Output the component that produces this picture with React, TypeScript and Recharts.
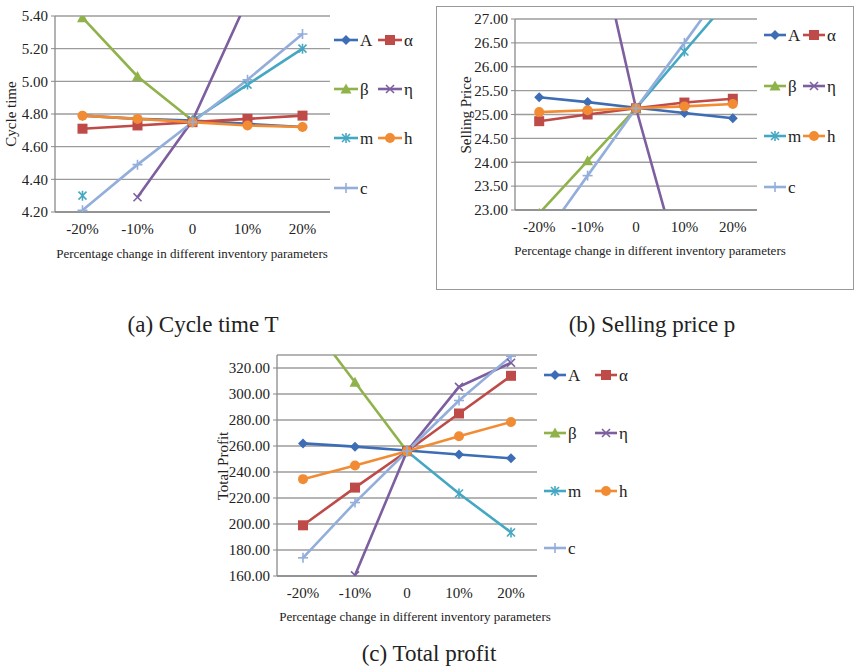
import React from "react"
import { LineChart, Line, XAxis, YAxis, CartesianGrid } from "recharts"

// categories on the x axis
const categories = ["-20%", "-10%", "0", "10%", "20%"]
const pctSteps = [-20, -10, 0, 10, 20]
const boundaryTicks = [-25, -15, -5, 5, 15, 25]

// (a) cycle time T
const cycleTicks = [4.2, 4.4, 4.6, 4.8, 5.0, 5.2, 5.4]
const cycleA = [4.79, 4.77, 4.76, 4.74, 4.72]
const cycleAlpha = [4.71, 4.73, 4.75, 4.77, 4.79]
const cycleBeta = [5.39, 5.03, 4.76, null, null]
const cycleEta = [null, 4.29, 4.76, 5.5, 6.25]
const cycleM = [4.3, null, 4.76, 4.98, 5.2]
const cycleH = [4.79, 4.77, 4.75, 4.73, 4.72]
const cycleC = [4.21, 4.49, 4.75, 5.01, 5.29]

// (b) selling price p
const priceTicks = [23, 23.5, 24, 24.5, 25, 25.5, 26, 26.5, 27]
const priceA = [25.36, 25.26, 25.14, 25.03, 24.92]
const priceAlpha = [24.86, 25.0, 25.13, 25.25, 25.33]
const priceBeta = [22.93, 24.03, 25.13, null, null]
const priceEta = [33.8, 29.6, 25.13, 21.5, 17.9]
const priceM = [null, null, 25.13, 26.32, 27.5]
const priceH = [25.05, 25.09, 25.13, 25.17, 25.22]
const priceC = [22.3, 23.72, 25.13, 26.5, 27.9]

// (c) total profit
const profitTicks = [160, 180, 200, 220, 240, 260, 280, 300, 320]
const profitA = [262, 259.5, 256.5, 253.5, 250.5]
const profitAlpha = [199, 228, 256, 285, 314]
const profitBeta = [362, 309, 256, null, null]
const profitEta = [null, 160.5, 256, 305.5, 324]
const profitM = [null, null, 256, 223.5, 193.5]
const profitH = [234.5, 245, 256, 267.5, 278.5]
const profitC = [174, 216.5, 256, 295, 329]

const seriesNames = ["A", "α", "β", "η", "m", "h", "c"]
const seriesColors = ["#3d6db4", "#be4b48", "#8fb34a", "#7d5fa0", "#45a8c2", "#f28c34", "#93aedb"]
const seriesShapes = ["diamond", "square", "triangle", "x", "star", "circle", "plus"]

const FONT = "'Liberation Serif', 'Times New Roman', serif"

function marker(shape: string, cx: number, cy: number, color: string, key?: string) {
  const s = 5
  switch (shape) {
    case "diamond":
      return <polygon key={key} points={`${cx},${cy - s} ${cx + s},${cy} ${cx},${cy + s} ${cx - s},${cy}`} fill={color} />
    case "square":
      return <rect key={key} x={cx - s} y={cy - s} width={s * 2} height={s * 2} fill={color} />
    case "triangle":
      return <polygon key={key} points={`${cx},${cy - 5.5} ${cx + 5.5},${cy + 4.5} ${cx - 5.5},${cy + 4.5}`} fill={color} />
    case "x":
      return (
        <g key={key} stroke={color} strokeWidth={1.6}>
          <line x1={cx - 4} y1={cy - 4} x2={cx + 4} y2={cy + 4} />
          <line x1={cx - 4} y1={cy + 4} x2={cx + 4} y2={cy - 4} />
        </g>
      )
    case "star":
      return (
        <g key={key} stroke={color} strokeWidth={1.6}>
          <line x1={cx - 4} y1={cy - 4} x2={cx + 4} y2={cy + 4} />
          <line x1={cx - 4} y1={cy + 4} x2={cx + 4} y2={cy - 4} />
          <line x1={cx} y1={cy - 5} x2={cx} y2={cy + 5} />
        </g>
      )
    case "circle":
      return <circle key={key} cx={cx} cy={cy} r={5} fill={color} />
    default:
      return (
        <g key={key} stroke={color} strokeWidth={1.6}>
          <line x1={cx - 5} y1={cy} x2={cx + 5} y2={cy} />
          <line x1={cx} y1={cy - 5} x2={cx} y2={cy + 5} />
        </g>
      )
  }
}

type PanelProps = {
  left: number
  top: number
  width: number
  height: number
  yWidth: number
  margin: { top: number; right: number; bottom: number; left: number }
  domain: [number, number]
  ticks: number[]
  values: (number | null)[][]
  fontSize: number
}

function Panel({ left, top, width, height, yWidth, margin, domain, ticks, values, fontSize }: PanelProps) {
  const rows = categories.map((c, i) => {
    const row: any = { x: pctSteps[i], label: c }
    values.forEach((v, k) => {
      row["s" + k] = v[i]
    })
    return row
  })
  return (
    <div style={{ position: "absolute", left, top, fontFamily: FONT }}>
      <LineChart width={width} height={height} data={rows} margin={margin}>
        <CartesianGrid vertical={false} stroke="#9c9c9c" strokeWidth={1.3} />
        <XAxis
          xAxisId="marks"
          type="number"
          dataKey="x"
          domain={[-25, 25]}
          ticks={boundaryTicks}
          tickFormatter={() => ""}
          height={0}
          tickSize={5}
          axisLine={false}
          tickLine={{ stroke: "#8a8a8a" }}
        />
        <XAxis
          type="number"
          dataKey="x"
          domain={[-25, 25]}
          ticks={pctSteps}
          tickFormatter={(v: number) => categories[pctSteps.indexOf(v)]}
          height={30}
          tickSize={0}
          tickMargin={11}
          tickLine={false}
          axisLine={{ stroke: "#8a8a8a", strokeWidth: 1.3 }}
          tick={{ fill: "#222", fontSize, fontFamily: FONT }}
        />
        <YAxis
          type="number"
          domain={domain}
          ticks={ticks}
          allowDataOverflow
          width={yWidth}
          tickFormatter={(v: number) => v.toFixed(2)}
          tickSize={4}
          tickMargin={3}
          axisLine={{ stroke: "#8a8a8a", strokeWidth: 1.3 }}
          tickLine={{ stroke: "#8a8a8a" }}
          tick={{ fill: "#222", fontSize, fontFamily: FONT }}
        />
        {values.map((_, k) => (
          <Line
            key={k}
            dataKey={"s" + k}
            stroke={seriesColors[k]}
            strokeWidth={2.6}
            isAnimationActive={false}
            connectNulls={false}
            activeDot={false}
            dot={(p: any) =>
              p.cy == null || isNaN(p.cy) ? <g key={`d${k}-${p.index}`} /> : marker(seriesShapes[k], p.cx, p.cy, seriesColors[k], `d${k}-${p.index}`)
            }
          />
        ))}
      </LineChart>
    </div>
  )
}

function Legend({ rowsY, col1, col2, width }: { rowsY: number[]; col1: number; col2: number; width: number }) {
  return (
    <>
      {seriesNames.map((name, i) => {
        const row = Math.floor(i / 2)
        const x = i % 2 === 0 ? col1 : col2
        const y = rowsY[row]
        return (
          <div key={name} style={{ position: "absolute", left: x, top: y - 9, height: 18, display: "flex", alignItems: "center", whiteSpace: "nowrap" }}>
            <svg width={width} height={14} style={{ display: "block" }}>
              <line x1={0} y1={7} x2={width} y2={7} stroke={seriesColors[i]} strokeWidth={2.6} />
              {marker(seriesShapes[i], width / 2, 7, seriesColors[i])}
            </svg>
            <span style={{ fontSize: 17, fontFamily: FONT, color: "#222", marginLeft: 2, lineHeight: 1 }}>{name}</span>
          </div>
        )
      })}
    </>
  )
}

function Text({ x, y, children, size, rotate }: { x: number; y: number; children: React.ReactNode; size: number; rotate?: boolean }) {
  return (
    <div
      style={{
        position: "absolute",
        left: x,
        top: y,
        transform: `translate(-50%, -50%)${rotate ? " rotate(-90deg)" : ""}`,
        fontFamily: FONT,
        fontSize: size,
        color: "#222",
        whiteSpace: "nowrap",
        lineHeight: 1,
      }}
    >
      {children}
    </div>
  )
}

export default function App() {
  return (
    <div style={{ position: "absolute", left: 0, top: 0, width: 856, height: 667, background: "#fff", overflow: "hidden", fontFamily: FONT }}>
      <div style={{ position: "absolute", left: 436, top: 6, width: 416, height: 282, border: "1px solid #999" }} />

      <Panel
        left={0}
        top={0}
        width={430}
        height={270}
        yWidth={55}
        margin={{ top: 16, right: 100, bottom: 28, left: 0 }}
        domain={[4.2, 5.4]}
        ticks={cycleTicks}
        values={[cycleA, cycleAlpha, cycleBeta, cycleEta, cycleM, cycleH, cycleC]}
        fontSize={15}
      />
      <Legend rowsY={[40, 89, 138, 188]} col1={334} col2={378} width={24} />
      <Text x={11} y={114} size={15} rotate>Cycle time</Text>
      <Text x={192} y={253} size={13}>Percentage change in different inventory parameters</Text>

      <Panel
        left={430}
        top={0}
        width={426}
        height={270}
        yWidth={85}
        margin={{ top: 19, right: 99, bottom: 30, left: 0 }}
        domain={[23, 27]}
        ticks={priceTicks}
        values={[priceA, priceAlpha, priceBeta, priceEta, priceM, priceH, priceC]}
        fontSize={15}
      />
      <Legend rowsY={[35, 86, 136, 187]} col1={764} col2={803} width={22} />
      <Text x={466} y={115} size={15} rotate>Selling  Price</Text>
      <Text x={650} y={250} size={13}>Percentage change in different inventory parameters</Text>

      <Panel
        left={200}
        top={340}
        width={450}
        height={300}
        yWidth={77}
        margin={{ top: 15, right: 113, bottom: 34, left: 0 }}
        domain={[160, 330]}
        ticks={profitTicks}
        values={[profitA, profitAlpha, profitBeta, profitEta, profitM, profitH, profitC]}
        fontSize={15}
      />
      <Legend rowsY={[375, 433, 491, 548]} col1={544} col2={595} width={22} />
      <Text x={223} y={466} size={15} rotate>Total  Profit</Text>
      <Text x={415} y={616} size={13}>Percentage change in different inventory parameters</Text>

      <Text x={203} y={324} size={23}>(a) Cycle time T</Text>
      <Text x={652} y={324} size={23}>(b) Selling price p</Text>
      <Text x={429} y={653} size={23}>(c) Total profit</Text>
    </div>
  )
}
